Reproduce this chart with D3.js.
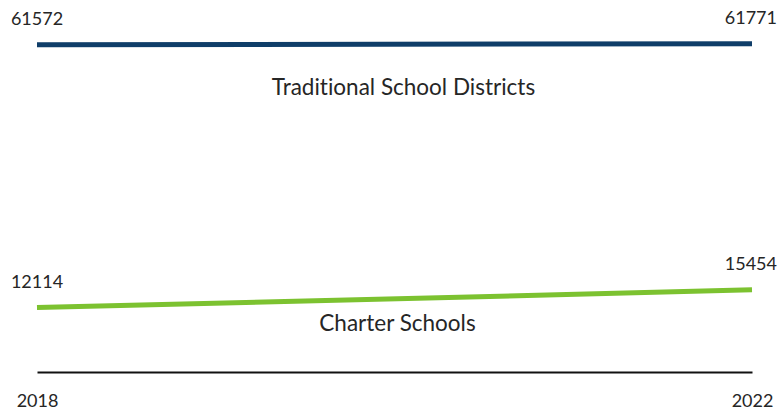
<!DOCTYPE html>
<html>
<head>
<meta charset="utf-8">
<script src="https://cdn.jsdelivr.net/npm/d3@7"></script>
<style>
  html, body { margin: 0; padding: 0; background: #fff; }
  svg { display: block; }
  text { font-family: Lato, "Open Sans", sans-serif; fill: #262626; font-variant-ligatures: none; }
</style>
</head>
<body>
<svg id="chart" width="780" height="413"></svg>
<script>
// Enrollment by system type, first and last year
const years = [2018, 2022];
const seriesNames = ["Traditional School Districts", "Charter Schools"];
const traditionalValues = [61572, 61771];
const charterValues = [12114, 15454];
const seriesColors = ["#0f3e69", "#7cc230"];

const W = 780, H = 413;
const svg = d3.select("#chart");

const x = d3.scaleLinear().domain([years[0], years[years.length - 1]]).range([37, 752]);
const y = d3.scaleLinear().domain([0, 70000]).range([372, 0]);

const series = [
  { name: seriesNames[0], values: traditionalValues, color: seriesColors[0], nameDx: 9, nameDy: 51 },
  { name: seriesNames[1], values: charterValues, color: seriesColors[1], nameDx: 3, nameDy: 32 }
];

// x axis: baseline plus first / last year labels
const xAxis = d3.axisBottom(x)
  .tickValues([years[0], years[years.length - 1]])
  .tickFormat(d3.format("d"))
  .tickSize(0)
  .tickPadding(35);

const gx = svg.append("g").attr("transform", `translate(0,${y(0)})`).call(xAxis);
gx.select(".domain").attr("stroke", "#111").attr("stroke-width", 2);
gx.selectAll("text")
  .attr("font-family", "Lato, 'Open Sans', sans-serif")
  .attr("font-size", 18)
  .attr("fill", "#262626")
  .attr("dy", 0);

const line = d3.line()
  .x((d, i) => x(years[i]))
  .y(d => y(d));

series.forEach(s => {
  svg.append("path")
    .datum(s.values)
    .attr("fill", "none")
    .attr("stroke", s.color)
    .attr("stroke-width", 5)
    .attr("d", line);

  // value labels at both ends
  s.values.forEach((v, i) => {
    const t = svg.append("text")
      .attr("x", x(years[i]))
      .attr("y", y(v) - 20)
      .attr("text-anchor", "middle")
      .attr("font-size", 18)
      .text(v);
    const bb = t.node().getBBox();
    if (bb.x + bb.width > W - 3) {
      t.attr("text-anchor", "end").attr("x", W - 3);
    }
  });

  // series name under the line
  const midYear = (years[0] + years[years.length - 1]) / 2;
  const midVal = d3.mean(s.values);
  svg.append("text")
    .attr("x", x(midYear) + s.nameDx)
    .attr("y", y(midVal) + s.nameDy)
    .attr("text-anchor", "middle")
    .attr("font-size", 22.5)
    .text(s.name);
});
</script>
</body>
</html>
